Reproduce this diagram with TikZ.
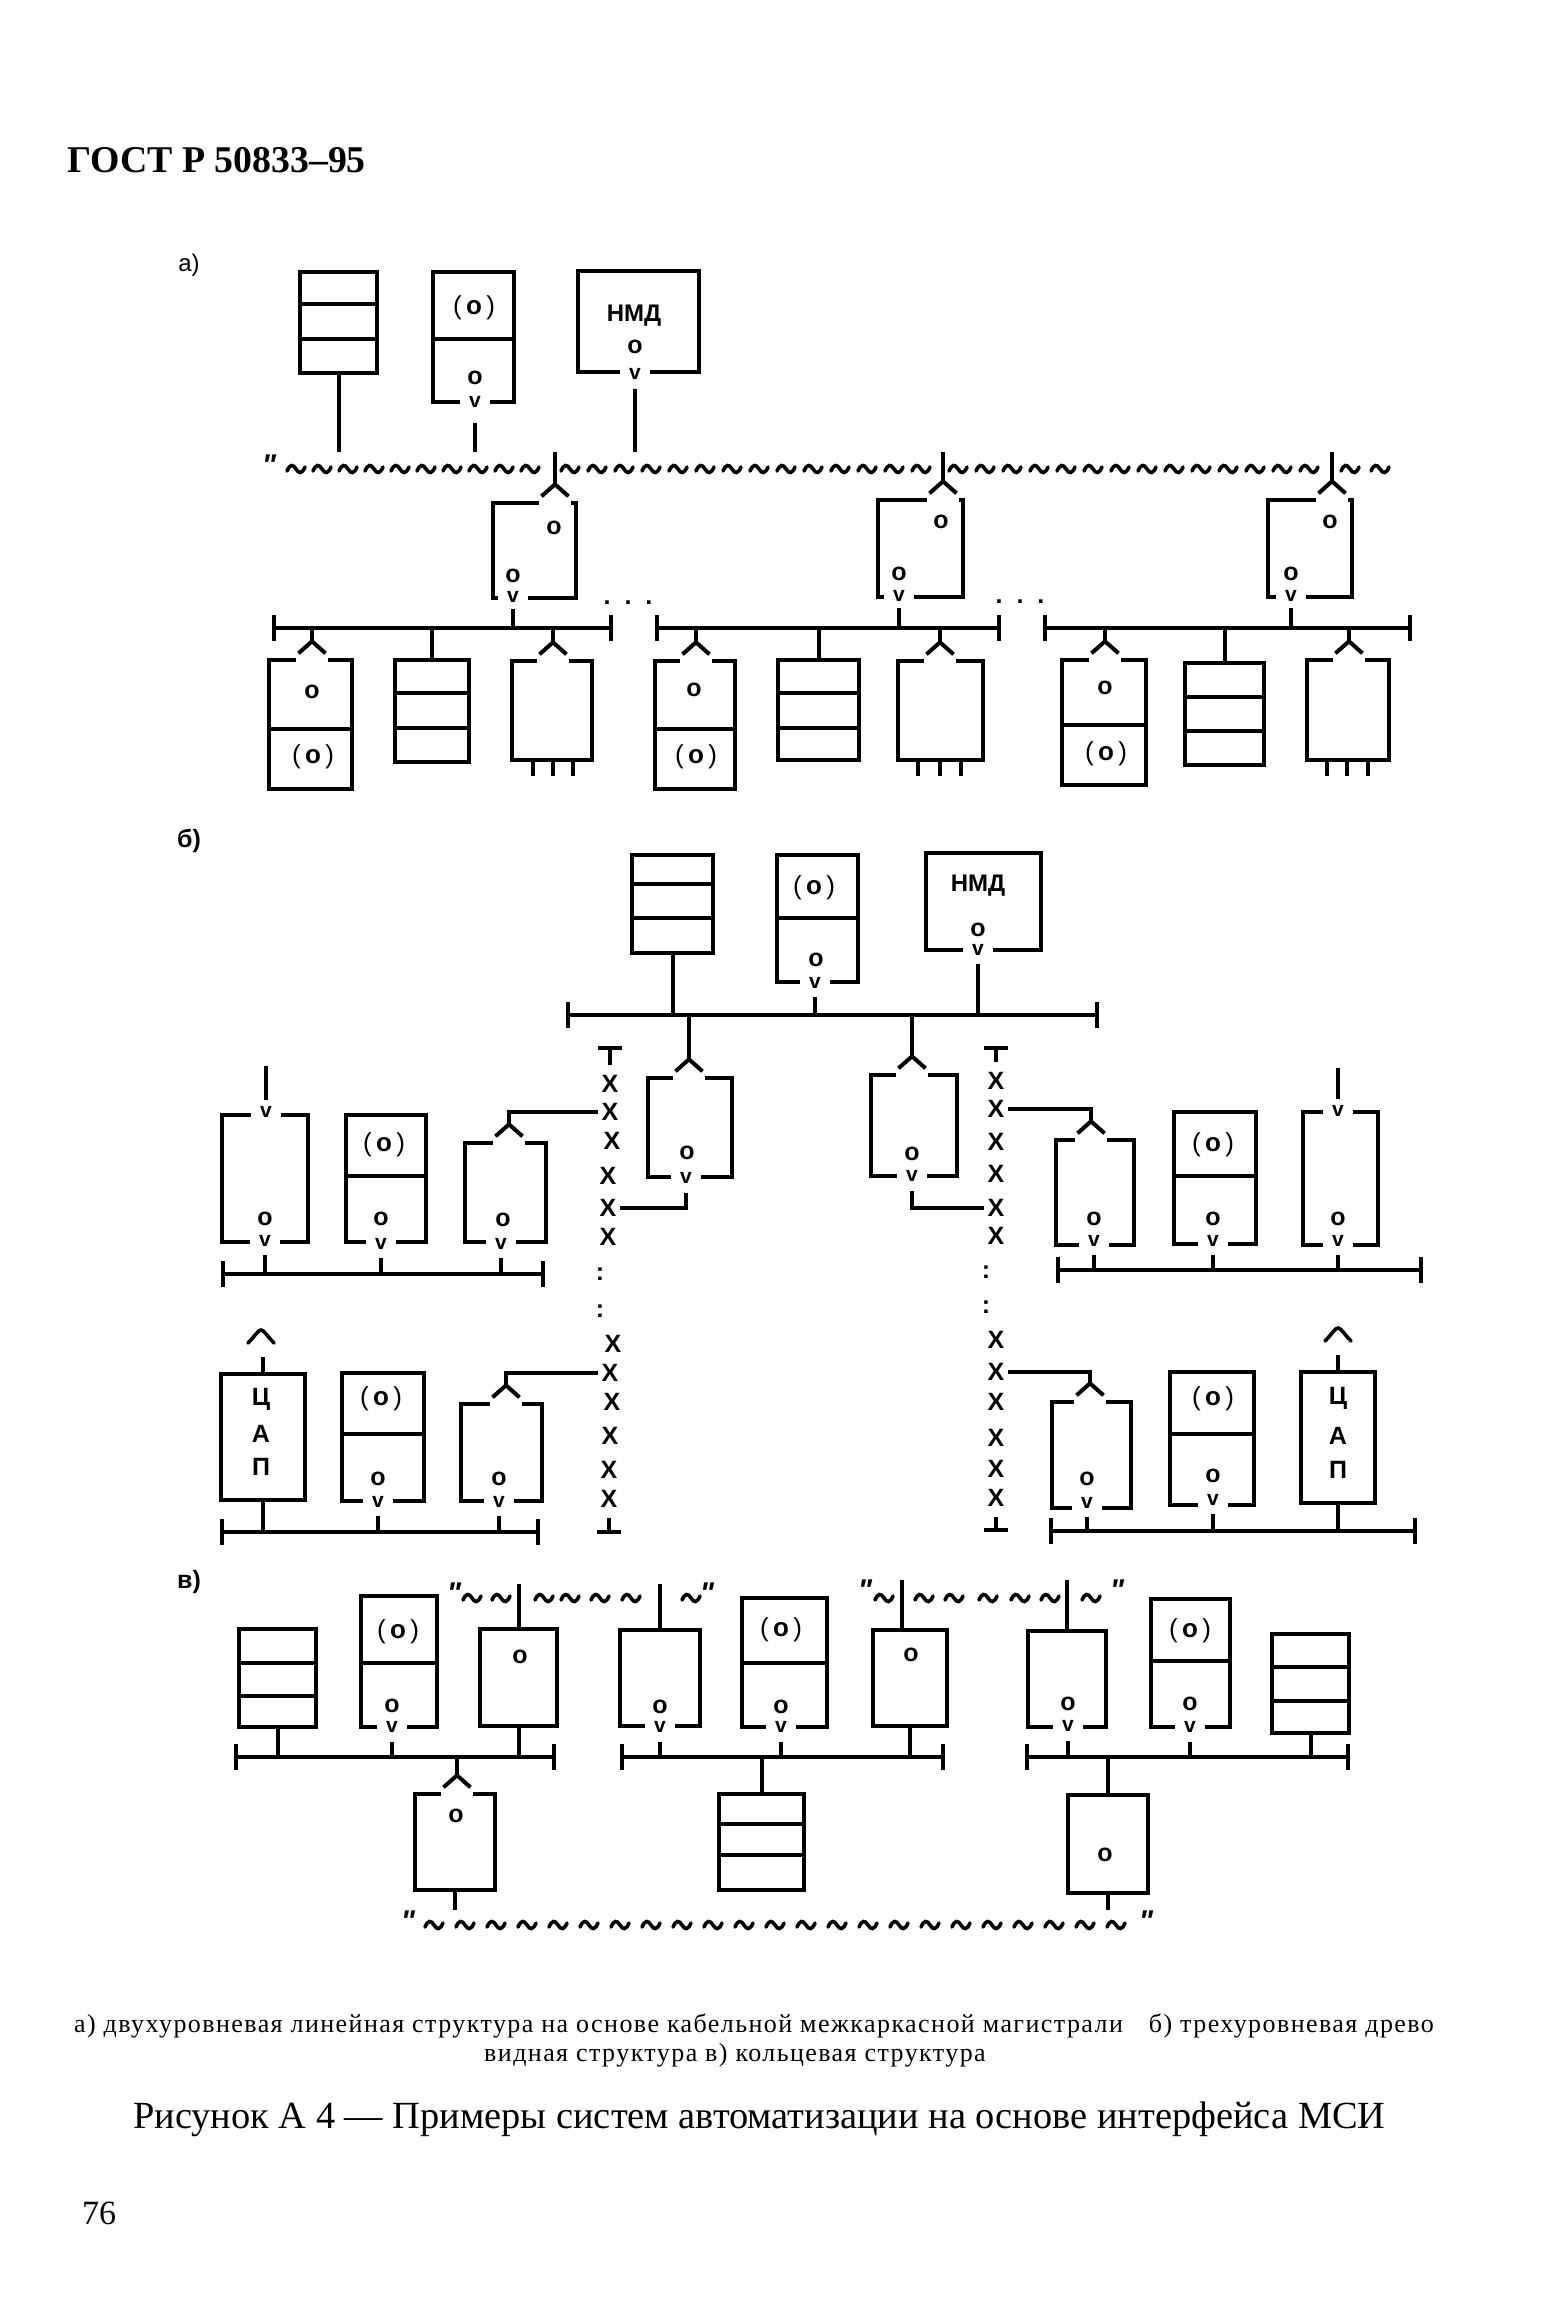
\documentclass[tikz,border=0pt]{standalone}
\usepackage{fontspec}
\setmainfont{Liberation Serif}
\setsansfont{Liberation Sans}
\newfontfamily\qmfont{Liberation Sans}
\usetikzlibrary{arrows.meta,positioning,calc,fit}
\tikzset{
  blk/.style={draw=black, line width=4pt, fill=white, inner sep=0pt, outer sep=0pt},
  ln/.style={draw=black, line width=3.8pt},
  fl/.style={draw=black, line width=4pt, shorten <=2pt},
  stub/.style={draw=black, line width=3.8pt},
  bus/.style={draw=black, line width=4pt,
    {Bar[width=26pt,line width=3.6pt]}-{Bar[width=26pt,line width=3.6pt]}},
  fork/.style={draw=black, line width=4pt,
    -{Straight Barb[reversed,length=12pt,width=27pt,line width=4pt]}},
  gapf/.style={fill=white, inner sep=0pt, minimum width=32pt, minimum height=9pt},
  vv/.style={fill=white, inner sep=0pt, minimum width=30pt, minimum height=17pt,
    font=\sffamily\bfseries\fontsize{21}{21}\selectfont},
  mk/.style={inner sep=0pt, font=\sffamily\bfseries\fontsize{25}{25}\selectfont},
  po/.style={inner sep=0pt, font=\sffamily\fontsize{26}{26}\selectfont},
  xx/.style={inner sep=1pt, outer sep=3pt, font=\sffamily\bfseries\fontsize{25}{25}\selectfont},
  ttx/.style={inner sep=0pt, font=\sffamily\bfseries\fontsize{25}{25}\selectfont},
  qm/.style={inner sep=0pt, font=\qmfont\itshape\bfseries\fontsize{30}{30}\selectfont},
  capt/.style={inner sep=0pt, font=\fontsize{26}{26}\selectfont\addfontfeature{LetterSpace=5.5}},
  tld/.pic={\draw[line width=3.6pt, line cap=round]
    (-9,2) .. controls (-6,-5) and (-3,-5) .. (0,0) .. controls (3,5) and (6,5) .. (9,-2);},
  hat/.pic={\draw[line width=3.6pt, line cap=round]
    (-13,7) .. controls (-6,0) and (-3,-6) .. (0,-6) .. controls (3,-6) and (6,0) .. (13,7);},
}

\begin{document}
\begin{tikzpicture}[x=1pt, y=-1pt]
\path[use as bounding box, fill=white] (0,0) rectangle (1544,2320);

% ===================================================================== page texts
\node[anchor=west, inner sep=0pt, font=\bfseries\fontsize{37.8}{38}\selectfont] (head) at (67,160) {ГОСТ Р 50833--95};
\node[ttx, font=\sffamily\fontsize{24}{24}\selectfont] (laba) at (189,265) {а)};
\node[ttx] (labb) at (189,841) {б)};
\node[ttx] (labc) at (189,1582) {в)};
\node[capt, anchor=west] (capa) at (74,2026)
  {а) двухуровневая линейная структура на основе кабельной межкаркасной магистрали\quad б) трехуровневая древо};
\node[capt] (capb) at (735,2055) {видная структура в) кольцевая структура};
\node[anchor=west, inner sep=0pt, font=\fontsize{38.4}{39}\selectfont] (fig) at (133,2119)
  {Рисунок А 4 --- Примеры систем автоматизации на основе интерфейса МСИ};
\node[anchor=west, inner sep=0pt, font=\fontsize{34}{34}\selectfont] (page) at (82,2213) {76};

% ===================================================================== a)
\coordinate (wa) at (270,452);
\coordinate (ba1) at (272,628);
\coordinate (ba1e) at (613,628);
\coordinate (ba2) at (655,628);
\coordinate (ba2e) at (1001,628);
\coordinate (ba3) at (1043,628);
\coordinate (ba3e) at (1412,628);

\foreach \n/\xa/\ya/\xb/\yb in {a1/300/272/377/373, a2/433/272/514/402, a3/578/271/699/372,
    m1/493/503/576/598, m2/878/500/963/597, m3/1268/500/1352/597,
    l1/269/660/352/789, s1/395/660/469/762, p1/512/661/592/760,
    l2/655/661/735/789, s2/778/660/859/760, p2/898/661/983/760,
    l3/1062/660/1146/785, s3/1185/663/1264/765, p3/1307/660/1389/760}
  \node[blk, fit={(\xa,\ya) (\xb,\yb)}] (\n) {};

\foreach \n/\y in {a1/304, a1/339, a2/339, l1/729, s1/693, s1/728,
    l2/729, s2/693, s2/728, l3/725, s3/697, s3/731}
  \draw[ln] (\n.west |- 0,\y) -- (\n.east |- 0,\y);

\foreach \a/\b in {ba1/ba1e, ba2/ba2e, ba3/ba3e}
  \draw[bus] (\a) -- (\b);

\foreach \x in {296,322,...,530, 570,597,...,925, 958,985,...,1312, 1350,1380}
  \pic at (\x,469) {tld};
\node[qm] (qa) at (269,465) {"};

\draw[fl] (a1.south) -- (a1.south |- wa);
\node[vv] (va2) at (475,402) {v};
\node[vv] (va3) at (635,374) {v};
\draw[stub, shorten <=12pt] (va2) -- (va2 |- wa);
\draw[stub, shorten <=6pt] (va3) -- (va3 |- wa);

\foreach \n/\x/\y/\b in {vm1/513/597/ba1, vm2/899/596/ba2, vm3/1291/596/ba3}{
  \node[vv] (\n) at (\x,\y) {v};
  \draw[stub, shorten <=3pt] (\n) -- (\n |- \b);
}

\foreach \n/\x/\y/\b in {m1/555/503/wa, m2/943/500/wa, m3/1332/500/wa,
    l1/312/660/ba1, p1/553/661/ba1, l2/696/661/ba2, p2/940/661/ba2, l3/1105/660/ba3, p3/1349/660/ba3}{
  \node[gapf] (g\n) at (\x,\y) {};
  \draw[fork] (g\n |- \b) -- (g\n.north);
}

\foreach \a/\b in {s1/ba1, s2/ba2, s3/ba3}
  \draw[fl] (\a.north) -- (\a.north |- \b);

\foreach \p/\x in {p1/533, p1/553, p1/573, p2/918, p2/940, p2/961, p3/1327, p3/1347, p3/1368}
  \draw[ln] (\p.south -| \x,0) -- ++(0,16);

\node[ttx, font=\sffamily\bfseries\fontsize{24}{24}\selectfont] (nmda) at (634,316) {НМД};
\node[ttx] (dda) at (628,603) {.\ \ .\ \ .};
\node[ttx] (ddb) at (1020,602) {.\ \ .\ \ .};

\foreach \n/\x/\y in {a2/475/378, a3/635/347, m1t/554/528, m1b/513/576, m2t/941/522, m2b/899/574,
    m3t/1330/522, m3b/1291/574, l1/312/692, l2/694/690, l3/1105/688}
  \node[mk] (o\n) at (\x,\y) {o};
\foreach \n/\x/\y in {a2/474/308, l1/313/757, l2/696/757, l3/1106/754}
  \node[po] (po\n) at (\x,\y) {(\,\textbf{o}\,)};

% ===================================================================== b)
\coordinate (bb) at (566,1015);
\coordinate (bbe) at (1099,1015);
\coordinate (bc) at (221,1274);
\coordinate (bce) at (545,1274);
\coordinate (bd) at (220,1532);
\coordinate (bde) at (540,1532);
\coordinate (be) at (1056,1270);
\coordinate (bee) at (1423,1270);
\coordinate (bh) at (1049,1531);
\coordinate (bhe) at (1417,1531);

\foreach \n/\xa/\ya/\xb/\yb in {b1/632/855/713/953, b2/777/855/858/982, b3/926/853/1041/950,
    f1/648/1078/732/1177, f2/871/1075/957/1176,
    c1/222/1115/308/1242, c2/346/1115/426/1242, c3/465/1143/546/1242,
    d1/221/1374/305/1500, d2/342/1373/424/1501, d3/461/1404/542/1501,
    e3/1056/1140/1134/1245, e2/1174/1112/1256/1244, e1/1303/1112/1378/1245,
    h3/1052/1402/1131/1508, h2/1170/1372/1254/1505, h1/1301/1372/1375/1503}
  \node[blk, fit={(\xa,\ya) (\xb,\yb)}] (\n) {};

\foreach \n/\y in {b1/884, b1/918, b2/918, c2/1176, d2/1434, e2/1176, h2/1434}
  \draw[ln] (\n.west |- 0,\y) -- (\n.east |- 0,\y);

\foreach \a/\b in {bb/bbe, bc/bce, bd/bde, be/bee, bh/bhe}
  \draw[bus] (\a) -- (\b);

\draw[fl] (b1.south) -- (b1.south |- bb);
\draw[fl] (d1.south) -- (d1.south |- bd);
\draw[fl] (h1.south) -- (h1.south |- bh);

% the two columns of crosses
\foreach \n/\x/\y in {l1/610/1084, l2/610/1112, l3/612/1141, l4/608/1176, l5/608/1208, l6/608/1237,
    l7/613/1344, l8/610/1373, l9/612/1402, l10/610/1436, l11/609/1470, l12/609/1499,
    r1/996/1081, r2/996/1109, r3/996/1142, r4/996/1174, r5/996/1208, r6/996/1236,
    r7/996/1340, r8/996/1372, r9/996/1402, r10/996/1438, r11/996/1469, r12/996/1498}
  \node[xx] (x\n) at (\x,\y) {X};
\foreach \n/\x/\y in {l1/600/1274, l2/600/1311, r1/986/1272, r2/986/1307}
  \node[ttx] (cl\n) at (\x,\y) {:};

\coordinate (tl) at (610,1046);
\coordinate (tr) at (995,1046);
\coordinate (ul) at (608,1534);
\coordinate (ur) at (995,1532);
\draw[ln, shorten <=6pt, -{Bar[width=24pt,line width=3.6pt]}] (xl1) -- (xl1 |- tl);
\draw[ln, shorten <=6pt, -{Bar[width=24pt,line width=3.6pt]}] (xr1) -- (xr1 |- tr);
\draw[ln, shorten <=6pt, -{Bar[width=24pt,line width=3.6pt]}] (xl12) -- (xl12 |- ul);
\draw[ln, shorten <=6pt, -{Bar[width=24pt,line width=3.6pt]}] (xr12) -- (xr12 |- ur);

\foreach \n/\x/\y/\a in {f1/689/1078/bb, f2/912/1075/bb}{
  \node[gapf] (g\n) at (\x,\y) {};
  \draw[fork] (g\n |- \a) -- (g\n.north);
}
\foreach \n/\x/\y/\a in {c3/509/1143/xl2, d3/506/1404/xl8, e3/1091/1140/xr2, h3/1090/1402/xr8}{
  \node[gapf] (g\n) at (\x,\y) {};
  \draw[fork] (\a) -| (g\n.north);
}

\node[vv] (vf1) at (686,1178) {v};
\node[vv] (vf2) at (912,1176) {v};
\draw[stub, shorten <=6pt] (vf1) |- (xl5);
\draw[stub, shorten <=6pt] (vf2) |- (xr5);

\foreach \n/\x/\y/\b in {vb2/815/983/bb, vb3/978/950/bb,
    vc1/265/1241/bc, vc2/381/1244/bc, vc3/501/1244/bc,
    vd2/378/1502/bd, vd3/499/1502/bd,
    ve3/1094/1241/be, ve2/1213/1241/be, ve1/1338/1241/be,
    vh3/1087/1503/bh, vh2/1213/1500/bh}{
  \node[vv] (\n) at (\x,\y) {v};
  \draw[stub, shorten <=5pt] (\n) -- (\n |- \b);
}

% free stubs above the outer boxes
\coordinate (stc) at (266,1066);
\coordinate (ste) at (1338,1068);
\node[vv] (vc0) at (266,1112) {v};
\node[vv] (ve0) at (1338,1111) {v};
\draw[stub, shorten <=3pt] (vc0) -- (stc);
\draw[stub, shorten <=3pt] (ve0) -- (ste);
\coordinate (htd) at (261,1357);
\coordinate (hth) at (1338,1355);
\draw[fl] (d1.north) -- (d1.north |- htd);
\draw[fl] (h1.north) -- (h1.north |- hth);
\pic at (261,1336) {hat};
\pic at (1338,1334) {hat};

\node[ttx, font=\sffamily\bfseries\fontsize{24}{24}\selectfont] (nmdb) at (978,886) {НМД};
\foreach \n/\x/\y/\t in {d1a/261/1399/Ц, d1b/261/1434/А, d1c/261/1467/П, h1a/1338/1398/Ц, h1b/1338/1436/А, h1c/1338/1470/П}
  \node[ttx] (t\n) at (\x,\y) {\t};

\foreach \n/\x/\y in {b2/816/960, b3/978/930, f1/687/1153, f2/912/1154,
    c1/265/1219, c2/381/1219, c3/503/1220, d2/378/1479, d3/499/1479,
    e3/1094/1219, e2/1213/1219, e1/1338/1219, h3/1087/1479, h2/1213/1476}
  \node[mk] (o\n) at (\x,\y) {o};
\foreach \n/\x/\y in {b2/814/888, c2/384/1145, d2/381/1399, e2/1213/1145, h2/1213/1399}
  \node[po] (po\n) at (\x,\y) {(\,\textbf{o}\,)};

% ===================================================================== c)
\coordinate (bk) at (234,1757);
\coordinate (bke) at (556,1757);
\coordinate (bn) at (620,1757);
\coordinate (bne) at (945,1757);
\coordinate (br) at (1025,1757);
\coordinate (bre) at (1350,1757);
\coordinate (wb1) at (470,1584);
\coordinate (wb2) at (902,1580);
\coordinate (wc) at (455,1910);

\foreach \n/\xa/\ya/\xb/\yb in {k1/239/1629/316/1727, k2/361/1596/437/1727, k3/480/1629/557/1726,
    k4/415/1794/495/1890, n1/620/1630/700/1726, n2/742/1598/827/1727, n3/873/1630/947/1726,
    n4/719/1794/804/1890, r1/1028/1631/1106/1727, r2/1151/1599/1230/1727, r3/1272/1634/1349/1733,
    r4/1068/1795/1148/1893}
  \node[blk, fit={(\xa,\ya) (\xb,\yb)}] (\n) {};

\foreach \n/\y in {k1/1663, k1/1696, k2/1663, n2/1663, n4/1824, n4/1855, r2/1661, r3/1667, r3/1701}
  \draw[ln] (\n.west |- 0,\y) -- (\n.east |- 0,\y);

\foreach \a/\b in {bk/bke, bn/bne, br/bre}
  \draw[bus] (\a) -- (\b);

\foreach \x/\y in {472/1598, 501/1598, 544/1598, 570/1598, 600/1598, 631/1598, 691/1598,
    884/1598, 924/1598, 954/1598, 988/1598, 1020/1598, 1050/1598, 1091/1598}
  \pic at (\x,\y) {tld};
\foreach \x in {434,465,...,1124}
  \pic at (\x,1925) {tld};
\foreach \n/\x/\y in {c1/454/1593, c2/707/1593, c3/865/1590, c4/1117/1590, c5/408/1921, c6/1146/1921}
  \node[qm] (q\n) at (\x,\y) {"};

\foreach \a/\b in {k1/bk, k3/bk, n3/bn, r3/br}
  \draw[fl] (\a.south) -- (\a.south |- \b);
\foreach \a/\b in {k3/wb1, n1/wb1, r1/wb2}
  \draw[fl] (\a.north) -- (\a.north |- \b);
\draw[fl] (n3.north -| wb2) -- (wb2);
\draw[fl] (k4.south) -- (k4.south |- wc);
\draw[fl] (r4.south) -- (r4.south |- wc);
\draw[fl] (n4.north) -- (n4.north |- bn);
\draw[fl] (r4.north) -- (r4.north |- br);

\node[gapf] (gk4) at (457,1794) {};
\draw[fork] (gk4 |- bk) -- (gk4.north);

\foreach \n/\x/\y/\b in {vk2/392/1727/bk, vn1/660/1727/bn, vn2/781/1727/bn, vr1/1068/1726/br, vr2/1190/1727/br}{
  \node[vv] (\n) at (\x,\y) {v};
  \draw[stub, shorten <=6pt] (\n) -- (\n |- \b);
}

\foreach \n/\x/\y in {k2/392/1706, k3/520/1657, k4/456/1816, n1/660/1707, n2/781/1707, n3/911/1655,
    r1/1068/1704, r2/1190/1704, r4/1105/1855}
  \node[mk] (o\n) at (\x,\y) {o};
\foreach \n/\x/\y in {k2/398/1632, n2/781/1630, r2/1190/1631}
  \node[po] (po\n) at (\x,\y) {(\,\textbf{o}\,)};

\end{tikzpicture}
\end{document}
